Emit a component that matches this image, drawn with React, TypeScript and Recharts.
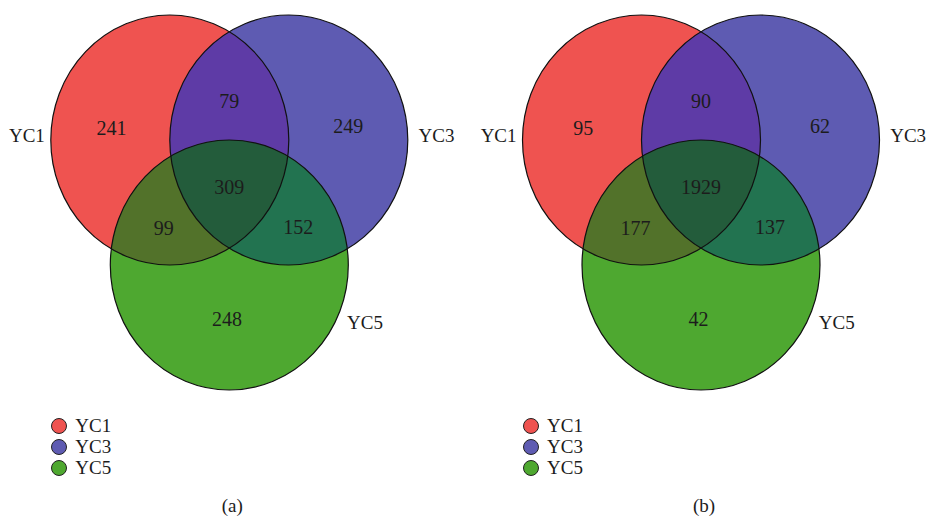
import React from "react";
import { Scatter, ScatterChart, XAxis, YAxis } from "recharts";

const SETS = ["YC1", "YC3", "YC5"];
const SET_COLORS = ["#ef5350", "#5e5bb2", "#4ea830"];

// each region lists the sets it belongs to
const REGIONS = [
  ["YC1"],
  ["YC1", "YC3"],
  ["YC3"],
  ["YC1", "YC3", "YC5"],
  ["YC1", "YC5"],
  ["YC3", "YC5"],
  ["YC5"],
];
const REGION_COLORS = ["#ef5350", "#5e3ba6", "#5e5bb2", "#235c3b", "#52722a", "#227350", "#4ea830"];

const COUNTS_A = [241, 79, 249, 309, 99, 152, 248];
const COUNTS_B = [95, 90, 62, 1929, 177, 137, 42];

// venn layout in circle-radius units
const CENTERS: Record<string, [number, number]> = {
  YC1: [-0.5, 0.5],
  YC3: [0.5, 0.5],
  YC5: [0, -0.5],
};
const COUNT_POS: [number, number][] = [
  [-0.99, 0.6],
  [0, 0.81],
  [1.0, 0.61],
  [0, 0.125],
  [-0.55, -0.2],
  [0.58, -0.196],
  [-0.02, -0.932],
];
const NAME_POS: Record<string, [number, number, "start" | "end"]> = {
  YC1: [-1.55, 0.54, "end"],
  YC3: [1.59, 0.54, "start"],
  YC5: [0.99, -0.956, "start"],
};

const H = 516;
const PX_X = 119; // px per unit
const PX_Y = 125;
const ORIGIN_Y = 202.5;
const FONT = "'Liberation Serif', 'Times New Roman', serif";
const INK = "#1c1c1c";

type PanelProps = { id: string; width: number; originX: number; counts: number[]; caption: string };

function VennPanel({ id, width, originX, counts, caption }: PanelProps) {
  const xDomain = [-originX / PX_X, (width - originX) / PX_X];
  const yDomain = [-(H - ORIGIN_Y) / PX_Y, ORIGIN_Y / PX_Y];
  const rx = PX_X;
  const ry = PX_Y;
  const clipId = (s: string) => `clip-${id}-${s}`;

  const circles = SETS.map((s, i) => ({ x: CENTERS[s][0], y: CENTERS[s][1], name: s, fill: SET_COLORS[i] }));
  // pairwise overlaps first, the triple overlap on top
  const overlaps = REGIONS.map((sets, i) => ({ sets, fill: REGION_COLORS[i] }))
    .filter((r) => r.sets.length > 1)
    .sort((a, b) => a.sets.length - b.sets.length)
    .map((r) => {
      const last = r.sets[r.sets.length - 1];
      return { x: CENTERS[last][0], y: CENTERS[last][1], clipBy: r.sets.slice(0, -1), fill: r.fill };
    });
  const countRows = counts.map((v, i) => ({ x: COUNT_POS[i][0], y: COUNT_POS[i][1], value: v }));
  const nameRows = SETS.map((s) => ({ x: NAME_POS[s][0], y: NAME_POS[s][1], anchor: NAME_POS[s][2], name: s }));

  return (
    <div style={{ position: "relative", width, height: H }}>
      <ScatterChart width={width} height={H} margin={{ top: 0, right: 0, bottom: 0, left: 0 }}>
        <XAxis type="number" dataKey="x" domain={xDomain} allowDataOverflow hide />
        <YAxis type="number" dataKey="y" domain={yDomain} allowDataOverflow hide />
        <Scatter
          data={circles}
          isAnimationActive={false}
          shape={(p: any) => (
            <g>
              <defs>
                <clipPath id={clipId(p.payload.name)}>
                  <ellipse cx={p.cx} cy={p.cy} rx={rx} ry={ry} />
                </clipPath>
              </defs>
              <ellipse cx={p.cx} cy={p.cy} rx={rx} ry={ry} fill={p.payload.fill} />
            </g>
          )}
        />
        <Scatter
          data={overlaps}
          isAnimationActive={false}
          shape={(p: any) => {
            let node = <ellipse cx={p.cx} cy={p.cy} rx={rx} ry={ry} fill={p.payload.fill} />;
            for (const s of p.payload.clipBy as string[]) {
              node = <g clipPath={`url(#${clipId(s)})`}>{node}</g>;
            }
            return node;
          }}
        />
        <Scatter
          data={circles}
          isAnimationActive={false}
          shape={(p: any) => (
            <ellipse cx={p.cx} cy={p.cy} rx={rx} ry={ry} fill="none" stroke="#111" strokeWidth={1.2} />
          )}
        />
        <Scatter
          data={countRows}
          isAnimationActive={false}
          shape={(p: any) => (
            <text x={p.cx} y={p.cy} dy="0.35em" textAnchor="middle" fontFamily={FONT} fontSize={20} fill={INK}>
              {p.payload.value}
            </text>
          )}
        />
        <Scatter
          data={nameRows}
          isAnimationActive={false}
          shape={(p: any) => (
            <text x={p.cx} y={p.cy} dy="0.35em" textAnchor={p.payload.anchor} fontFamily={FONT} fontSize={19} fill={INK}>
              {p.payload.name}
            </text>
          )}
        />
      </ScatterChart>

      <div
        style={{
          position: "absolute",
          left: originX - 178,
          top: 415,
          fontFamily: FONT,
          fontSize: 19,
          lineHeight: "21px",
          color: INK,
        }}
      >
        {SETS.map((s, i) => (
          <div key={s} style={{ display: "flex", alignItems: "center", height: 21 }}>
            <span
              style={{
                display: "inline-block",
                boxSizing: "border-box",
                width: 16,
                height: 16,
                borderRadius: "50%",
                background: SET_COLORS[i],
                border: "1.2px solid #222",
                marginRight: 8,
              }}
            />
            {s}
          </div>
        ))}
      </div>

      <div
        style={{
          position: "absolute",
          left: originX + 3 - 50,
          width: 100,
          top: 495,
          textAlign: "center",
          fontFamily: FONT,
          fontSize: 19,
          lineHeight: "21px",
          color: INK,
        }}
      >
        {caption}
      </div>
    </div>
  );
}

export default function App() {
  return (
    <>
      <style>{`body{margin:0;background:#fff}`}</style>
      <div style={{ display: "flex", width: 929, height: H, background: "#fff" }}>
        <VennPanel id="a" width={465} originX={229.3} counts={COUNTS_A} caption="(a)" />
        <VennPanel id="b" width={464} originX={236} counts={COUNTS_B} caption="(b)" />
      </div>
    </>
  );
}
